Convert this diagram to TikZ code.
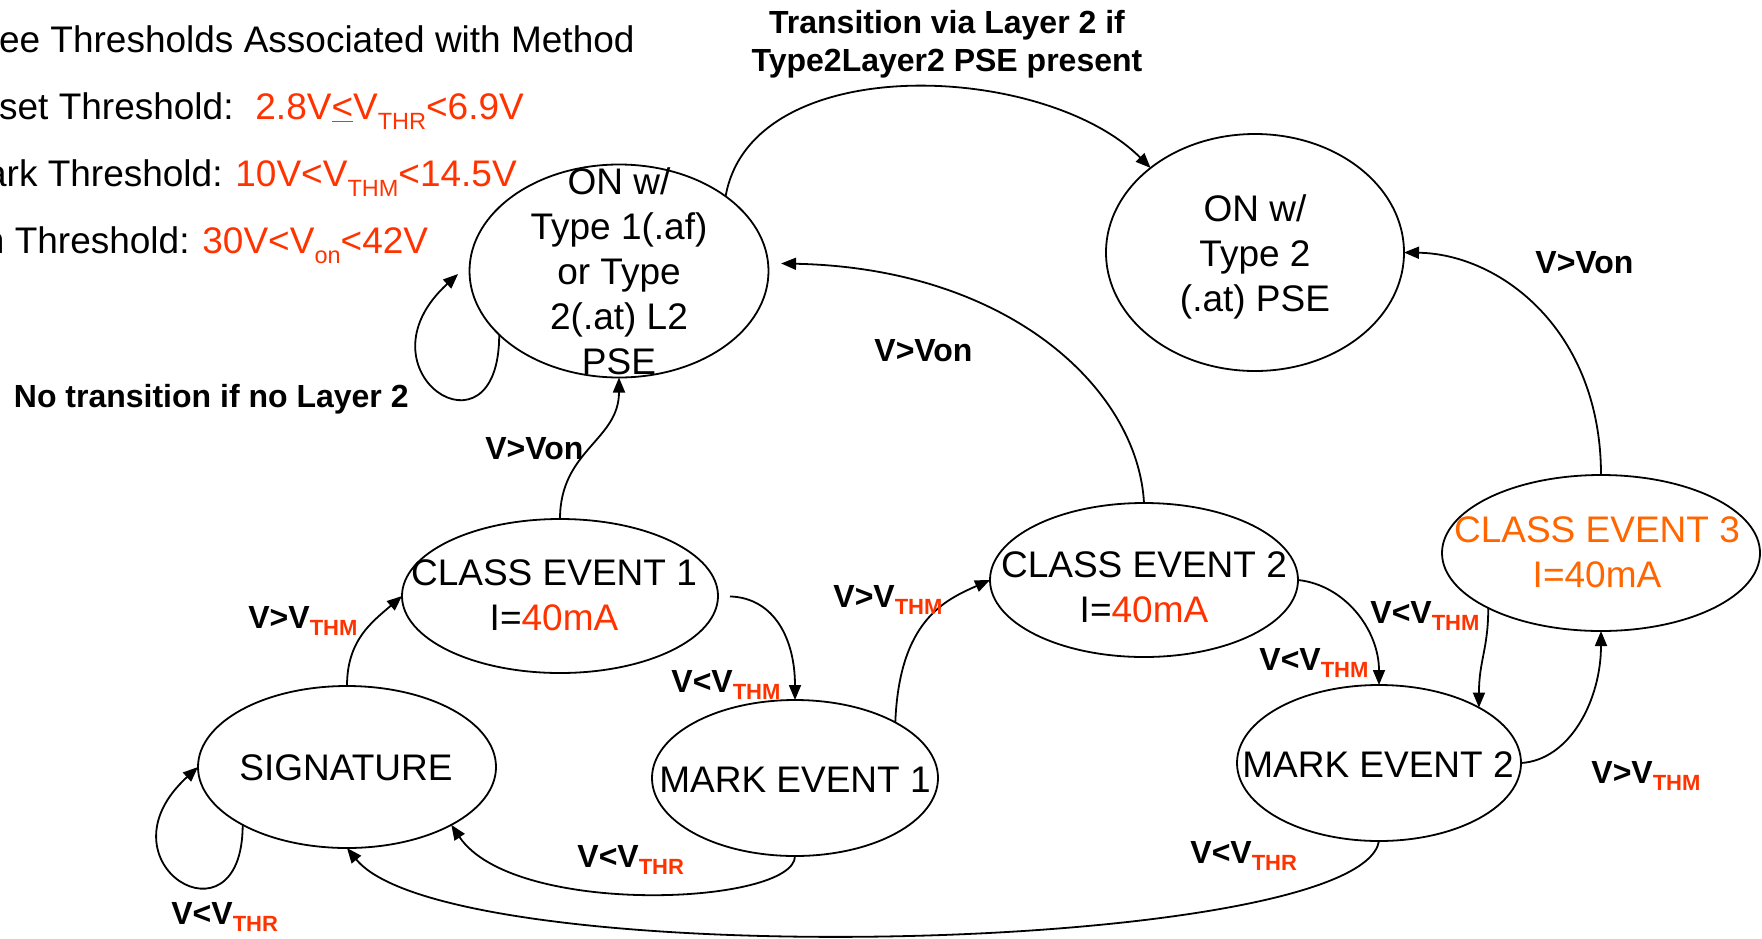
\documentclass[tikz,border=0pt]{standalone}
\usepackage{fontspec}
\setmainfont{Liberation Sans}
\usetikzlibrary{shapes.geometric,arrows.meta}
\definecolor{vred}{HTML}{FF3300}
\definecolor{vorange}{HTML}{FF6600}
\newcommand\thsub[1]{\raisebox{-5pt}{\fontsize{11.75}{12}\selectfont #1}}
\newcommand\lbsub[1]{\raisebox{-3.75pt}{\fontsize{11}{12}\selectfont\bfseries\color{vred}#1}}
\tikzset{
  state/.style={draw, ellipse, line width=0.9pt, inner sep=0pt, outer sep=0pt},
  stxt/.style={font=\fontsize{18.5}{22.5}\selectfont, align=center, inner sep=0pt},
  lbl/.style={font=\fontsize{16}{19}\bfseries\selectfont, anchor=base west, inner sep=0pt},
  thr/.style={font=\fontsize{18.5}{22.5}\selectfont, inner sep=0pt},
  arr/.style={line width=0.9pt, -{Triangle[length=7.5pt,width=6pt]}},
}
\begin{document}
\begin{tikzpicture}[x=0.5pt,y=0.5pt]
\useasboundingbox (0,0) rectangle (1762,-938);
\clip (0,0) rectangle (1762,-938);

% threshold text
\node[thr, anchor=base east] (t1) at (635,-52) {ee Thresholds Associated with Method};
\node[thr, anchor=base east] (t2) at (234,-119) {set Threshold:};
\node[thr, anchor=base west, text=vred] (t2r) at (255,-119) {2.8V\underline{<}V\thsub{THR}<6.9V};
\node[thr, anchor=base east] (t3) at (223,-186) {ark Threshold:};
\node[thr, anchor=base west, text=vred] (t3r) at (235,-186) {10V<V\thsub{THM}<14.5V};
\node[thr, anchor=base east] (t4) at (190,-253) {n Threshold:};
\node[thr, anchor=base west, text=vred] (t4r) at (202,-253) {30V<V\thsub{on}<42V};

% states
\node[state, minimum width=149.5pt, minimum height=106.5pt] (ON1) at (619,-271) {};
\node[state, minimum width=149pt, minimum height=118.5pt] (ON2) at (1255,-252.5) {};
\node[state, minimum width=158pt, minimum height=77pt] (CE1) at (560,-596) {};
\node[state, minimum width=154pt, minimum height=77pt] (CE2) at (1144,-580) {};
\node[state, minimum width=159pt, minimum height=78pt] (CE3) at (1601,-553) {};
\node[state, minimum width=149pt, minimum height=81pt] (SIG) at (347,-767) {};
\node[state, minimum width=143pt, minimum height=78pt] (ME1) at (795,-778) {};
\node[state, minimum width=142pt, minimum height=78pt] (ME2) at (1379,-763) {};

% state texts
\node[stxt] (ON1t) at (619,-271.5) {ON w/\\Type 1(.af)\\or Type\\2(.at) L2\\PSE};
\node[stxt] (ON2t) at (1255,-257) {ON w/\\Type 2\\(.at) PSE};
\node[stxt] (CE1t) at (554,-595) {CLASS EVENT 1\\I=\textcolor{vred}{40mA}};
\node[stxt] (CE2t) at (1144,-587) {CLASS EVENT 2\\I=\textcolor{vred}{40mA}};
\node[stxt, text=vorange] (CE3t) at (1597,-552) {CLASS EVENT 3\\I=40mA};
\node[stxt, anchor=base] (SIGt) at (346,-780) {SIGNATURE};
\node[stxt, anchor=base] (ME1t) at (795,-792) {MARK EVENT 1};
\node[stxt, anchor=base] (ME2t) at (1378,-777) {MARK EVENT 2};

% connectors
\draw[arr] (ON1.35) to[out=80, in=135, looseness=0.9] (ON2.141);
\draw[arr, shorten >=8pt] (ON1.208) .. controls +(0,-133) and +(-118,-108) .. (ON1.177);
\draw[arr] (CE1.north) .. controls +(0,69) and +(0,-63) .. (ON1.south);
\draw[arr, shorten >=6.5pt] (CE2.north) .. controls +(-6,113) and +(242,-5) .. (ON1.3);
\draw[arr] (CE3.north) .. controls +(0,145) and +(96,-1.5) .. (ON2.east);
\draw[arr] (SIG.north) .. controls +(0,46) and +(-30,-26) .. (CE1.west);
\draw[arr, shorten <=6pt] (CE1.east) .. controls +(57,-2) and +(0,60) .. (ME1.north);
\draw[arr] (ME1.29) .. controls +(4,102) and +(-45,-20) .. (CE2.west);
\draw[arr] (CE2.east) .. controls +(47,-5) and +(0,55) .. (ME2.north);
\draw[arr] (CE3.206) .. controls +(0,-41) and +(0,47) .. (ME2.29);
\draw[arr] (ME2.east) .. controls +(49,3) and +(0,-69) .. (CE3.south);
\draw[arr] (ME1.south) .. controls +(0,-49) and +(62.5,-93) .. (SIG.331);
\draw[arr] (ME2.south) .. controls +(-19,-114) and +(103,-127) .. (SIG.south);
\draw[arr] (SIG.209) .. controls +(0,-128) and +(-105,-96) .. (SIG.west);

% labels
\node[font=\fontsize{16}{19}\bfseries\selectfont, align=center, anchor=base, inner sep=0pt] (ltop) at (947,-71.5) {Transition via Layer 2 if\\Type2Layer2 PSE present};
\node[lbl] (lnol2) at (13.5,-407.5) {No transition if no Layer 2};
\node[lbl] (lon1) at (485,-459.5) {V>Von};
\node[lbl] (lon2) at (874,-361.5) {V>Von};
\node[lbl] (lon3) at (1535,-273.5) {V>Von};
\node[lbl] (l1) at (248,-628) {V>V\lbsub{THM}};
\node[lbl] (l2) at (671,-692) {V<V\lbsub{THM}};
\node[lbl] (l3) at (833,-607) {V>V\lbsub{THM}};
\node[lbl] (l4) at (1370,-623) {V<V\lbsub{THM}};
\node[lbl] (l5) at (1259,-670) {V<V\lbsub{THM}};
\node[lbl] (l6) at (1591,-783) {V>V\lbsub{THM}};
\node[lbl] (l7) at (577,-867) {V<V\lbsub{THR}};
\node[lbl] (l8) at (1190,-863) {V<V\lbsub{THR}};
\node[lbl] (l9) at (171,-924) {V<V\lbsub{THR}};
\end{tikzpicture}
\end{document}
